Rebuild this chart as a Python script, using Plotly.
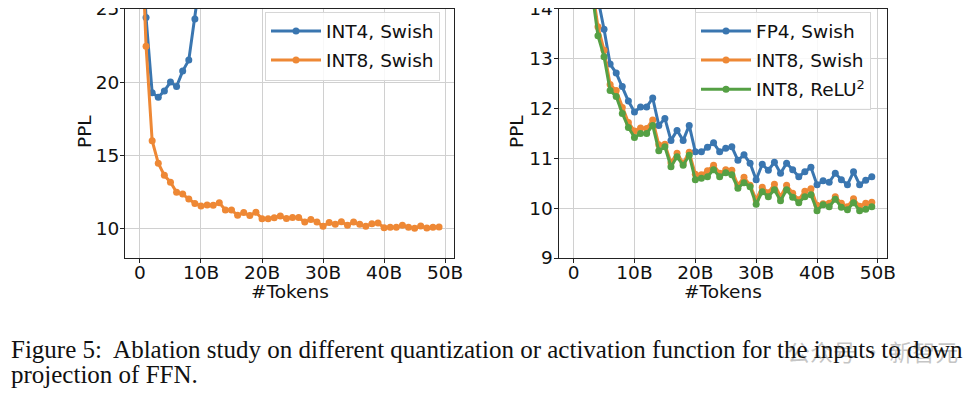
import plotly.graph_objects as go

# ---------------- data ----------------
tokens = list(range(50))  # billions of tokens
tick_vals = [0, 10, 20, 30, 40, 50]
tick_text = ["0", "10B", "20B", "30B", "40B", "50B"]

# left panel
int4_swish_tokens = [0, 1, 2, 3, 4, 5, 6, 7, 8, 9, 10]
int4_swish = [32.0, 24.4, 19.27, 18.96, 19.4, 20.0, 19.7, 20.75, 21.5, 24.3, 27.5]

int8_swish = [33.0, 22.45, 16.0, 14.47, 13.64, 13.17, 12.48, 12.36, 12.02, 11.72,
              11.55, 11.61, 11.60, 11.77, 11.27, 11.28, 10.91, 11.10, 10.90, 11.12,
              10.68, 10.67, 10.75, 10.86, 10.70, 10.77, 10.76, 10.46, 10.62, 10.46,
              10.17, 10.42, 10.31, 10.48, 10.23, 10.46, 10.30, 10.17, 10.34, 10.39,
              10.06, 10.09, 10.10, 10.23, 10.10, 10.03, 10.19, 10.04, 10.10, 10.12]

# right panel
fp4_swish = [34.0, 23.5, 16.9, 15.0, 14.2, 13.59, 12.89, 12.71, 12.44, 12.15,
             11.93, 12.03, 12.03, 12.21, 11.66, 11.80, 11.36, 11.56, 11.36, 11.66,
             11.13, 11.13, 11.22, 11.31, 11.13, 11.20, 11.23, 10.96, 11.07, 10.90,
             10.57, 10.88, 10.76, 10.92, 10.70, 10.90, 10.77, 10.63, 10.73, 10.82,
             10.47, 10.55, 10.52, 10.70, 10.57, 10.47, 10.73, 10.47, 10.56, 10.63]

int8_relu2 = [32.5, 22.0, 15.8, 14.35, 13.46, 13.04, 12.36, 12.24, 11.90, 11.62,
              11.42, 11.50, 11.50, 11.66, 11.15, 11.23, 10.83, 11.03, 10.86, 11.06,
              10.57, 10.60, 10.63, 10.77, 10.63, 10.71, 10.67, 10.40, 10.51, 10.43,
              10.08, 10.33, 10.23, 10.37, 10.15, 10.37, 10.22, 10.11, 10.23, 10.27,
              9.95, 10.07, 10.03, 10.18, 10.02, 9.97, 10.11, 9.95, 9.98, 10.03]

left_yticks = [10, 15, 20, 25]
right_yticks = [9, 10, 11, 12, 13, 14]

caption_1 = "Figure 5:  Ablation study on different quantization or activation function for the inputs to down"
caption_2 = "projection of FFN."
watermark = "公众号 · 新智元"

# ---------------- style ----------------
BLUE = "#3a76b0"
ORANGE = "#ee8835"
GREEN = "#55a044"
OFF = 8                      # page body margin
W, H = 973 - 2 * OFF, 397 - 2 * OFF
FONT = "DejaVu Sans"
FS = 18.5


def px_x(v):
    """page pixel -> paper fraction"""
    return (v - OFF) / W


def px_y(v):
    return 1 - (v - OFF) / H


fig = go.Figure()


def add(x, y, name, color, xa, ya, legend, group):
    fig.add_trace(go.Scatter(
        x=x, y=y, name=name, mode="lines+markers",
        line=dict(color=color, width=3),
        marker=dict(color=color, size=7),
        xaxis=xa, yaxis=ya, legend=legend, legendgroup=group,
        cliponaxis=True,
    ))


add(int4_swish_tokens, int4_swish, "INT4, Swish", BLUE, "x", "y", "legend", "a")
add(tokens, int8_swish, "INT8, Swish", ORANGE, "x", "y", "legend", "b")
add(tokens, fp4_swish, "FP4, Swish", BLUE, "x2", "y2", "legend2", "c")
add(tokens, int8_swish, "INT8, Swish", ORANGE, "x2", "y2", "legend2", "d")
add(tokens, int8_relu2, "INT8, ReLU<sup>2</sup>", GREEN, "x2", "y2", "legend2", "e")

axis_common = dict(
    showgrid=True, gridcolor="#d0d0d0", gridwidth=1,
    showline=True, mirror=True, linecolor="#222222", linewidth=1.2,
    ticks="outside", ticklen=4, tickcolor="#222222", tickwidth=1,
    tickfont=dict(family=FONT, size=FS, color="#111111"),
    ticklabeloverflow="allow",
    automargin=False, zeroline=False,
)
xaxis_common = dict(axis_common, ticklabelstandoff=-6,
                    range=[-2.45, 51.45], tickvals=tick_vals, ticktext=tick_text)
yaxis_common = dict(axis_common, ticklabelstandoff=-3)

yd = [px_y(258), 1 - 0.8 / H]
legend_common = dict(xanchor="left", yanchor="top",
                     bgcolor="rgba(255,255,255,0.85)", bordercolor="#d6d6d6", borderwidth=1,
                     font=dict(family=FONT, size=FS), tracegroupgap=2, itemwidth=50,
                     traceorder="grouped")
fig.update_layout(
    width=W, height=H,
    margin=dict(l=0, r=0, t=0, b=0, autoexpand=False),
    paper_bgcolor="white", plot_bgcolor="white",
    font=dict(family=FONT, size=FS, color="#111111"),
    xaxis=dict(domain=[px_x(125), px_x(454)], anchor="y", **xaxis_common),
    yaxis=dict(domain=yd, range=[8, 25], anchor="x", tickvals=left_yticks, **yaxis_common),
    xaxis2=dict(domain=[px_x(558.7), px_x(886.7)], anchor="y2", **xaxis_common),
    yaxis2=dict(domain=yd, range=[9, 14], anchor="x2", tickvals=right_yticks, **yaxis_common),
    legend=dict(x=px_x(265), y=px_y(11.5), **legend_common),
    legend2=dict(x=px_x(695), y=px_y(11.5), **legend_common),
    showlegend=True,
)

txt = dict(family=FONT, size=FS, color="#111111")
annos = [
    dict(text="#Tokens", x=px_x(289.5), y=px_y(291), font=txt),
    dict(text="#Tokens", x=px_x(723), y=px_y(291), font=txt),
    dict(text="PPL", x=px_x(85), y=px_y(132), textangle=-90, font=txt),
    dict(text="PPL", x=px_x(517), y=px_y(132), textangle=-90, font=txt),
    dict(text=watermark, x=px_x(785), y=px_y(351), xanchor="left",
         font=dict(family="Noto Sans CJK SC", size=23, color="rgba(140,140,140,0.5)")),
    dict(text=caption_1, x=px_x(9), y=px_y(349), xanchor="left",
         font=dict(family="Liberation Serif", size=25, color="#111111")),
    dict(text=caption_2, x=px_x(9), y=px_y(374), xanchor="left",
         font=dict(family="Liberation Serif", size=25, color="#111111")),
]
for a in annos:
    a.setdefault("xanchor", "center")
    a.setdefault("yanchor", "middle")
    a.update(xref="paper", yref="paper", showarrow=False)
fig.update_layout(annotations=annos)

fig.write_html("out.html")
